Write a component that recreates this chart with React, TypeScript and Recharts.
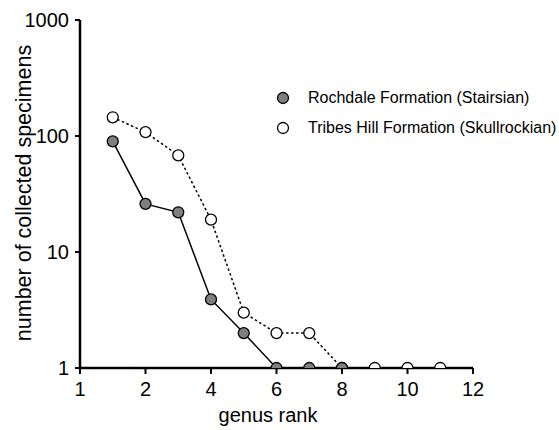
import React from 'react';
import { LineChart, Line, XAxis, YAxis } from 'recharts';

const ranks = [1, 2, 3, 4, 5, 6, 7, 8, 9, 10, 11];
const rochdale = [90, 26, 22, 3.9, 2, 1, 1, 1, null, null, null];
const tribesHill = [145, 108, 68, 19, 3, 2, 2, 1, 1, 1, 1];
const xTicks = [0, 2, 4, 6, 8, 10, 12];
const xTickLabels = ['1', '2', '4', '6', '8', '10', '12'];
const yTicks = [1, 10, 100, 1000];
const seriesNames = ['Rochdale Formation (Stairsian)', 'Tribes Hill Formation (Skullrockian)'];

const data = ranks.map((r, i) => ({ rank: r, rochdale: rochdale[i], tribes: tribesHill[i] }));

const FONT = '"Liberation Sans", Arial, Helvetica, sans-serif';

const GreyDot = (props: any) => {
  const { cx, cy } = props;
  if (cx == null || cy == null) return null;
  return <circle cx={cx} cy={cy} r={5.5} fill="#7f7f7f" stroke="#000" strokeWidth={1.3} />;
};
const WhiteDot = (props: any) => {
  const { cx, cy } = props;
  if (cx == null || cy == null) return null;
  return <circle cx={cx} cy={cy} r={5.5} fill="#fff" stroke="#000" strokeWidth={1.3} />;
};

const LegendBox = () => (
  <div
    style={{
      position: 'absolute',
      left: 274,
      top: 83,
      width: 285,
      fontFamily: FONT,
      fontSize: 16,
      color: '#000',
      lineHeight: '30px',
      whiteSpace: 'nowrap',
    }}
  >
    {seriesNames.map((n, i) => (
      <div key={n} style={{ display: 'flex', alignItems: 'center' }}>
        <svg width={20} height={14} style={{ marginRight: 14 }}>
          <circle cx={9} cy={7} r={5.5} fill={i === 0 ? '#7f7f7f' : '#fff'} stroke="#000" strokeWidth={1.3} />
        </svg>
        <span>{n}</span>
      </div>
    ))}
  </div>
);

export default function App() {
  return (
    <div style={{ position: 'absolute', left: 0, top: 0, width: 559, height: 430 }}>
      <LineChart width={559} height={430} data={data} margin={{ top: 20, left: 20, right: 86, bottom: 32 }}>
        <XAxis
          dataKey="rank"
          type="number"
          domain={[0, 12]}
          ticks={xTicks}
          tickFormatter={(v: number) => xTickLabels[xTicks.indexOf(v)]}
          height={30}
          axisLine={{ stroke: '#000', strokeWidth: 2.5 }}
          tickLine={{ stroke: '#000', strokeWidth: 2 }}
          tickSize={6}
          tickMargin={8}
          tick={{ fill: '#000', fontSize: 20, fontFamily: FONT }}
          label={{
            content: () => (
              <text x={268} y={422} textAnchor="middle" fontSize={20} fontFamily={FONT} fill="#000">
                genus rank
              </text>
            ),
          }}
        />
        <YAxis
          type="number"
          scale="log"
          domain={[1, 1000]}
          ticks={yTicks}
          allowDataOverflow
          width={60}
          axisLine={{ stroke: '#000', strokeWidth: 2.5 }}
          tickLine={{ stroke: '#000', strokeWidth: 2 }}
          tickSize={5}
          tickMargin={6}
          tick={{ fill: '#000', fontSize: 20, fontFamily: FONT }}
          label={{
            content: () => (
              <text
                x={31}
                y={193}
                textAnchor="middle"
                fontSize={21.5}
                fontFamily={FONT}
                fill="#000"
                transform="rotate(-90 31 193)"
              >
                number of collected specimens
              </text>
            ),
          }}
        />
        <Line
          dataKey="tribes"
          name={seriesNames[1]}
          stroke="#000"
          strokeWidth={1.5}
          strokeDasharray="2.5 2.5"
          dot={<WhiteDot />}
          isAnimationActive={false}
          connectNulls={false}
        />
        <Line
          dataKey="rochdale"
          name={seriesNames[0]}
          stroke="#000"
          strokeWidth={1.5}
          dot={<GreyDot />}
          isAnimationActive={false}
          connectNulls={false}
        />
      </LineChart>
      <LegendBox />
    </div>
  );
}
